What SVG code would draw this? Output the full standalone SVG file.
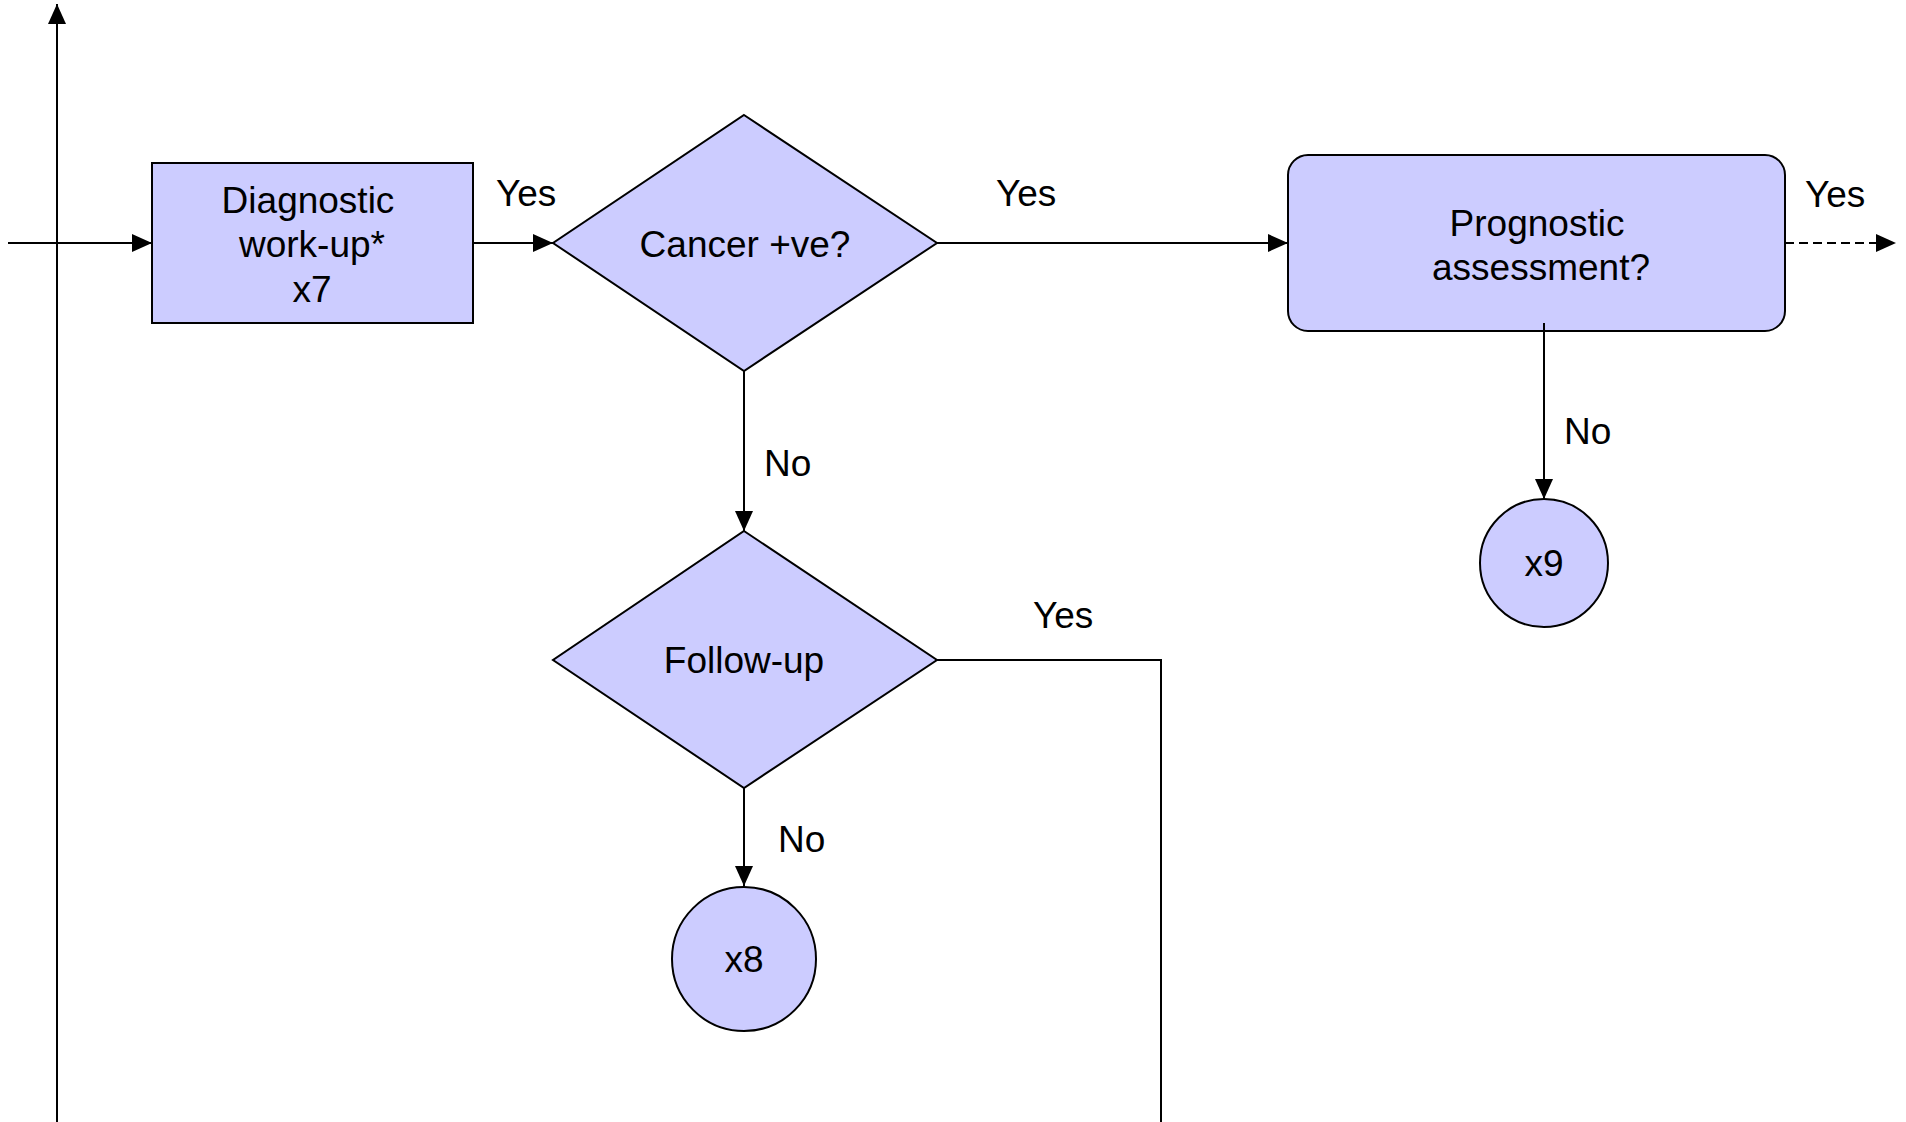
<svg xmlns="http://www.w3.org/2000/svg" width="1906" height="1122" viewBox="0 0 1906 1122">
<defs>
<style>
.n{fill:#CCCCFF;stroke:#000;stroke-width:2}
.e{fill:none;stroke:#000;stroke-width:2}
.t{font-family:"Liberation Sans",Arial,sans-serif;font-size:37px;fill:#000}
.c{text-anchor:middle}
</style>
<marker id="ah" viewBox="0 0 20 18" refX="20" refY="9" markerWidth="20" markerHeight="18" markerUnits="userSpaceOnUse" orient="auto">
<path d="M0,0 L20,9 L0,18 Z" fill="#000"/>
</marker>
</defs>
<rect width="1906" height="1122" fill="#fff"/>
<g id="diagnostic">
<rect class="n" x="152" y="163" width="321" height="160"/>
<text class="t c" x="308" y="213">Diagnostic</text>
<text class="t c" x="312" y="257">work-up*</text>
<text class="t c" x="312" y="302">x7</text>
</g>
<g id="cancer">
<polygon class="n" points="744,115 937,243 744,371 553,243"/>
<text class="t c" x="745" y="257">Cancer +ve?</text>
</g>
<g id="prognostic">
<rect class="n" x="1288" y="155" width="497" height="176" rx="20" ry="20"/>
<text class="t c" x="1537" y="236">Prognostic</text>
<text class="t c" x="1541" y="280">assessment?</text>
</g>
<g id="followup">
<polygon class="n" points="744,531 937,660 744,788 553,660"/>
<text class="t c" x="744" y="673">Follow-up</text>
</g>
<g id="x8">
<circle class="n" cx="744" cy="959" r="72"/>
<text class="t c" x="744" y="972">x8</text>
</g>
<g id="x9">
<circle class="n" cx="1544" cy="563" r="64"/>
<text class="t c" x="1544" y="576">x9</text>
</g>
<g id="connectors">
<line class="e" x1="57" y1="1122" x2="57" y2="4" marker-end="url(#ah)"/>
<line class="e" x1="8" y1="243" x2="152" y2="243" marker-end="url(#ah)"/>
<line class="e" x1="473" y1="243" x2="553" y2="243" marker-end="url(#ah)"/>
<line class="e" x1="937" y1="243" x2="1288" y2="243" marker-end="url(#ah)"/>
<line class="e" x1="1785" y1="243" x2="1896" y2="243" stroke-dasharray="9 5" marker-end="url(#ah)"/>
<line class="e" x1="744" y1="371" x2="744" y2="531" marker-end="url(#ah)"/>
<line class="e" x1="1544" y1="323" x2="1544" y2="499" marker-end="url(#ah)"/>
<line class="e" x1="744" y1="788" x2="744" y2="886" marker-end="url(#ah)"/>
<polyline class="e" points="937,660 1161,660 1161,1122"/>
<text class="t" x="496" y="206">Yes</text>
<text class="t" x="996" y="206">Yes</text>
<text class="t" x="1805" y="207">Yes</text>
<text class="t" x="1033" y="628">Yes</text>
<text class="t" x="764" y="476">No</text>
<text class="t" x="1564" y="444">No</text>
<text class="t" x="778" y="852">No</text>
</g>
</svg>
